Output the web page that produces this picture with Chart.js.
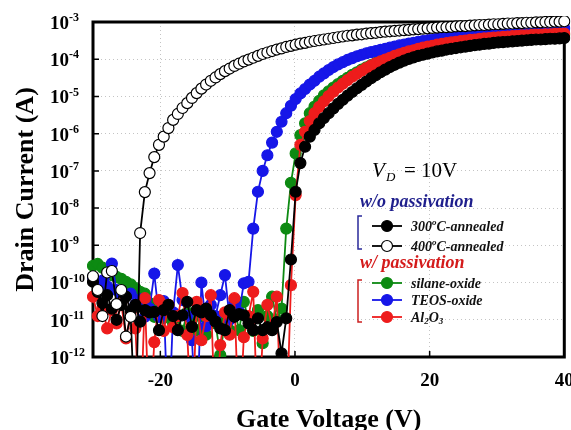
<!DOCTYPE html>
<html>
<head>
<meta charset="utf-8">
<script src="https://cdn.jsdelivr.net/npm/chart.js@4"></script>
<style>
  html, body { margin: 0; padding: 0; background: #fff; }
  #wrap { width: 571px; height: 430px; }
</style>
</head>
<body>
<div id="wrap"><canvas id="transfer_chart" width="571" height="430"></canvas></div>
<script>
// gate voltage sweep (V)
const volts = [
  -30, -29.3, -28.6, -27.9, -27.2, -26.5, -25.8, -25.1, -24.4, -23.7,
  -23.0, -22.3, -21.6, -20.9, -20.2, -19.5, -18.8, -18.1, -17.4, -16.7,
  -16.0, -15.3, -14.6, -13.9, -13.2, -12.5, -11.8, -11.1, -10.4, -9.7,
  -9.0, -8.3, -7.6, -6.9, -6.2, -5.5, -4.8, -4.1, -3.4, -2.7,
  -2.0, -1.3, -0.6, 0.1, 0.8, 1.5, 2.2, 2.9, 3.6, 4.3,
  5.0, 5.7, 6.4, 7.1, 7.8, 8.5, 9.2, 9.9, 10.6, 11.3,
  12.0, 12.7, 13.4, 14.1, 14.8, 15.5, 16.2, 16.9, 17.6, 18.3,
  19.0, 19.7, 20.4, 21.1, 21.8, 22.5, 23.2, 23.9, 24.6, 25.3,
  26.0, 26.7, 27.4, 28.1, 28.8, 29.5, 30.2, 30.9, 31.6, 32.3,
  33.0, 33.7, 34.4, 35.1, 35.8, 36.5, 37.2, 37.9, 38.6, 39.3,
  40.0
];

// drain current, stored as log10(I / A)  (-14 = below the 1e-12 floor)
const logI_300C = [
  -9.98, -10.25, -10.55, -10.34, -10.7, -11.0, -10.6, -10.38, -10.75, -10.6,
  -11.05, -10.74, -10.8, -10.79, -11.28, -10.74, -10.6, -10.9, -11.28, -10.88,
  -10.52, -11.19, -10.74, -10.8, -10.7, -10.88, -11.05, -11.23, -11.28, -10.74,
  -10.92, -10.85, -10.88, -11.1, -11.28, -10.96, -11.28, -11.2, -11.28, -11.06,
  -11.9, -10.96, -9.38, -7.56, -6.79, -6.35, -6.08, -5.9, -5.72, -5.58,
  -5.45, -5.32, -5.2, -5.09, -4.98, -4.88, -4.78, -4.69, -4.6, -4.51,
  -4.43, -4.35, -4.28, -4.21, -4.15, -4.09, -4.04, -3.99, -3.95, -3.91,
  -3.88, -3.85, -3.82, -3.79, -3.77, -3.74, -3.72, -3.70, -3.68, -3.66,
  -3.64, -3.62, -3.61, -3.59, -3.58, -3.56, -3.55, -3.54, -3.53, -3.52,
  -3.51, -3.50, -3.49, -3.48, -3.47, -3.47, -3.46, -3.45, -3.45, -3.44,
  -3.43
];
const logI_400C = [
  -9.83, -10.2, -10.9, -9.73, -9.69, -10.58, -10.2, -11.45, -10.92, -14,
  -8.67, -7.57, -7.06, -6.63, -6.3, -6.08, -5.85, -5.63, -5.47, -5.31,
  -5.18, -5.04, -4.91, -4.79, -4.68, -4.58, -4.49, -4.40, -4.32, -4.25,
  -4.18, -4.12, -4.06, -4.01, -3.96, -3.91, -3.86, -3.82, -3.78, -3.74,
  -3.71, -3.67, -3.64, -3.61, -3.58, -3.56, -3.53, -3.51, -3.49, -3.47,
  -3.45, -3.43, -3.41, -3.39, -3.37, -3.36, -3.34, -3.33, -3.31, -3.30,
  -3.29, -3.27, -3.26, -3.25, -3.24, -3.23, -3.22, -3.21, -3.20, -3.19,
  -3.18, -3.17, -3.16, -3.15, -3.14, -3.14, -3.13, -3.12, -3.11, -3.11,
  -3.10, -3.09, -3.08, -3.08, -3.07, -3.06, -3.06, -3.05, -3.04, -3.04,
  -3.03, -3.03, -3.02, -3.02, -3.01, -3.01, -3.00, -3.00, -2.99, -2.99,
  -2.98
];
const logI_silane = [
  -9.55, -9.5, -9.6, -9.7, -9.8, -9.85, -9.9, -9.98, -10.05, -10.15,
  -10.25, -10.3, -10.55, -10.92, -10.6, -10.95, -10.74, -11.1, -10.88, -11.3,
  -10.8, -11.0, -11.28, -10.9, -11.4, -10.85, -11.1, -11.95, -11.0, -11.28,
  -10.7, -11.28, -10.52, -11.0, -11.3, -10.74, -11.63, -10.9, -10.38, -11.0,
  -10.7, -8.55, -7.32, -6.53, -6.04, -5.72, -5.45, -5.27, -5.12, -4.97,
  -4.86, -4.76, -4.67, -4.58, -4.5, -4.42, -4.35, -4.28, -4.22, -4.16,
  -4.1, -4.05, -4.01, -3.97, -3.93, -3.89, -3.85, -3.81, -3.78, -3.75,
  -3.72, -3.69, -3.66, -3.64, -3.62, -3.60, -3.58, -3.56, -3.54, -3.53,
  -3.51, -3.50, -3.48, -3.47, -3.46, -3.45, -3.44, -3.43, -3.42, -3.41,
  -3.40, -3.39, -3.39, -3.38, -3.37, -3.37, -3.36, -3.36, -3.35, -3.35,
  -3.34
];
const logI_teos = [
  -9.85, -10.0, -9.95, -10.1, -9.49, -10.2, -10.4, -10.34, -10.3, -10.6,
  -10.45, -10.92, -10.7, -9.76, -10.92, -10.5, -14, -10.8, -9.53, -10.47,
  -10.9, -11.55, -14, -10.0, -11.17, -10.6, -10.9, -10.34, -9.8, -11.0,
  -10.55, -10.8, -10.02, -9.98, -8.55, -7.56, -7.0, -6.58, -6.24, -5.95,
  -5.68, -5.45, -5.25, -5.07, -4.92, -4.8, -4.68, -4.58, -4.47, -4.38,
  -4.29, -4.21, -4.14, -4.08, -4.02, -3.97, -3.92, -3.88, -3.84, -3.81,
  -3.78, -3.75, -3.72, -3.69, -3.66, -3.63, -3.61, -3.58, -3.56, -3.53,
  -3.51, -3.49, -3.47, -3.45, -3.43, -3.41, -3.40, -3.38, -3.37, -3.35,
  -3.34, -3.33, -3.31, -3.30, -3.29, -3.28, -3.27, -3.26, -3.25, -3.24,
  -3.23, -3.23, -3.22, -3.21, -3.21, -3.20, -3.19, -3.19, -3.18, -3.18,
  -3.17
];
const logI_al2o3 = [
  -10.38, -10.9, -10.7, -11.23, -10.74, -11.1, -10.55, -11.5, -10.8, -11.23,
  -14, -10.42, -14, -11.6, -10.47, -11.3, -10.6, -11.2, -10.9, -10.28,
  -11.41, -14, -10.52, -11.55, -10.9, -10.34, -14, -11.68, -10.8, -11.4,
  -10.42, -14, -11.47, -10.9, -10.25, -14, -11.5, -10.6, -11.2, -10.38,
  -14, -14, -10.07, -7.65, -6.3, -5.95, -5.66, -5.45, -5.28, -5.13,
  -4.99, -4.87, -4.76, -4.66, -4.56, -4.47, -4.39, -4.31, -4.24, -4.17,
  -4.11, -4.06, -4.01, -3.96, -3.91, -3.87, -3.83, -3.79, -3.76, -3.72,
  -3.69, -3.66, -3.64, -3.61, -3.59, -3.57, -3.55, -3.53, -3.51, -3.50,
  -3.48, -3.47, -3.45, -3.44, -3.43, -3.42, -3.41, -3.40, -3.39, -3.38,
  -3.37, -3.36, -3.36, -3.35, -3.34, -3.34, -3.33, -3.33, -3.32, -3.32,
  -3.31
];

const yTickExps = [-3, -4, -5, -6, -7, -8, -9, -10, -11, -12];
const xTickVals = [-20, 0, 20, 40];
const xTickLabels = ["-20", "0", "20", "40"];

const SERIF = '"Liberation Serif", "Times New Roman", serif';
const GREEN = "#0d8a12";
const BLUE = "#1616e8";
const RED = "#ee1c1c";

function pts(arr) {
  return volts.map((v, i) => ({ x: v, y: Math.pow(10, arr[i]) }));
}

function curve(label, arr, color, fill, order) {
  return {
    label: label,
    data: pts(arr),
    borderColor: color,
    backgroundColor: fill,
    borderWidth: 1.8,
    pointRadius: 5.5,
    pointBorderWidth: 1.2,
    pointBorderColor: color,
    pointBackgroundColor: fill,
    tension: 0,
    order: order,
    clip: { left: 6, top: 6, right: 6, bottom: 0 }
  };
}

// text with raised / lowered small pieces
function runs(ctx, x, y, parts, style, size, small) {
  parts.forEach(p => {
    const s = p.s ? small : size;
    ctx.font = style + " " + s + "px " + SERIF;
    ctx.fillText(p.t, x, y + (p.dy || 0));
    x += ctx.measureText(p.t).width + (p.gap || 0);
  });
}

function legendMark(ctx, x, y, color, open) {
  ctx.strokeStyle = color;
  ctx.lineWidth = 1.8;
  ctx.beginPath();
  ctx.moveTo(x - 15, y);
  ctx.lineTo(x + 15, y);
  ctx.stroke();
  ctx.beginPath();
  ctx.arc(x, y, 5.5, 0, Math.PI * 2);
  ctx.fillStyle = open ? "#fff" : color;
  ctx.fill();
  ctx.lineWidth = 1.2;
  ctx.stroke();
}

function bracket(ctx, x, y0, y1, color) {
  ctx.strokeStyle = color;
  ctx.lineWidth = 1.5;
  ctx.beginPath();
  ctx.moveTo(x + 4, y0);
  ctx.lineTo(x, y0);
  ctx.lineTo(x, y1);
  ctx.lineTo(x + 4, y1);
  ctx.stroke();
}

const deco = {
  id: "deco",
  beforeDatasetsDraw(chart) {
    const { ctx, chartArea: a, scales } = chart;
    ctx.save();
    ctx.strokeStyle = "#000";
    ctx.lineWidth = 1.5;
    ctx.beginPath();
    yTickExps.forEach(e => {
      const py = scales.y.getPixelForValue(Math.pow(10, e));
      ctx.moveTo(a.left, py);
      ctx.lineTo(a.left + 6, py);
    });
    xTickVals.forEach(v => {
      const px = scales.x.getPixelForValue(v);
      ctx.moveTo(px, a.bottom);
      ctx.lineTo(px, a.bottom - 6);
    });
    ctx.stroke();
    ctx.lineWidth = 3;
    ctx.strokeRect(a.left, a.top, a.right - a.left, a.bottom - a.top);
    ctx.restore();
  },
  afterDraw(chart) {
    const { ctx, chartArea: a, scales } = chart;
    ctx.save();
    ctx.fillStyle = "#000";
    ctx.textBaseline = "middle";
    ctx.textAlign = "left";

    // y tick labels 10^n
    yTickExps.forEach(e => {
      const py = scales.y.getPixelForValue(Math.pow(10, e));
      runs(ctx, 50, py + 2, [{ t: "10" }, { t: String(e), s: 1, dy: -6 }], "bold", 19, 12);
    });

    // x tick labels
    ctx.textAlign = "center";
    ctx.font = "bold 19px " + SERIF;
    xTickVals.forEach((v, i) => {
      ctx.fillText(xTickLabels[i], scales.x.getPixelForValue(v), a.bottom + 24);
    });

    // axis titles
    ctx.textBaseline = "alphabetic";
    ctx.font = "bold 26px " + SERIF;
    ctx.fillText("Gate Voltage (V)", (a.left + a.right) / 2, 427);
    ctx.save();
    ctx.translate(33, (a.top + a.bottom) / 2);
    ctx.rotate(-Math.PI / 2);
    ctx.fillText("Drain Current (A)", 0, 0);
    ctx.restore();

    // annotation + legend
    ctx.textAlign = "left";
    ctx.font = "italic 21px " + SERIF;
    ctx.fillText("V", 372, 177);
    ctx.font = "italic 13px " + SERIF;
    ctx.fillText("D", 386, 181);
    ctx.font = "21px " + SERIF;
    ctx.fillText("= 10V", 404, 177);

    ctx.fillStyle = "#1e1e8c";
    ctx.font = "italic bold 18px " + SERIF;
    ctx.fillText("w/o passivation", 360, 207);
    ctx.fillStyle = "#d41a1a";
    ctx.fillText("w/ passivation", 360, 268);

    bracket(ctx, 358, 216, 249, "#2a2a9a");
    bracket(ctx, 358, 280, 322, "#cc2020");

    ctx.textBaseline = "middle";
    const rows = [
      { y: 226, c: "#000", open: false, parts: [{ t: "300" }, { t: "o", s: 1, dy: -4 }, { t: "C-annealed" }] },
      { y: 246, c: "#000", open: true, parts: [{ t: "400" }, { t: "o", s: 1, dy: -4 }, { t: "C-annealed" }] },
      { y: 283, c: GREEN, open: false, parts: [{ t: "silane-oxide" }] },
      { y: 300, c: BLUE, open: false, parts: [{ t: "TEOS-oxide" }] },
      { y: 317, c: RED, open: false, parts: [{ t: "Al" }, { t: "2", s: 1, dy: 4 }, { t: "O" }, { t: "3", s: 1, dy: 4 }] }
    ];
    rows.forEach(r => {
      legendMark(ctx, 387, r.y, r.c, r.open);
      ctx.fillStyle = "#111";
      runs(ctx, 411, r.y + 1, r.parts, "italic bold", 14, 9);
    });
    ctx.restore();
  }
};

const transfer_chart = new Chart(document.getElementById("transfer_chart"), {
  type: "line",
  data: {
    datasets: [
      curve("300°C-annealed", logI_300C, "#000", "#000", 1),
      curve("400°C-annealed", logI_400C, "#000", "#fff", 0),
      curve("silane-oxide", logI_silane, GREEN, GREEN, 4),
      curve("TEOS-oxide", logI_teos, BLUE, BLUE, 3),
      curve("Al2O3", logI_al2o3, RED, RED, 2)
    ]
  },
  options: {
    responsive: false,
    animation: false,
    devicePixelRatio: 1,
    layout: { padding: { left: 93, right: 6, top: 22, bottom: 73 } },
    plugins: { legend: { display: false }, tooltip: { enabled: false } },
    scales: {
      x: {
        type: "linear",
        min: -30,
        max: 40,
        afterBuildTicks: s => { s.ticks = xTickVals.map(v => ({ value: v })); },
        ticks: { display: false },
        grid: { drawTicks: false, color: "#c4c4c4", lineWidth: 1 },
        border: { display: false, dash: [1, 3] }
      },
      y: {
        type: "logarithmic",
        min: 1e-12,
        max: 1e-3,
        afterBuildTicks: s => { s.ticks = yTickExps.map(e => ({ value: Math.pow(10, e) })); },
        ticks: { display: false },
        grid: { drawTicks: false, color: "#c4c4c4", lineWidth: 1 },
        border: { display: false, dash: [1, 3] }
      }
    }
  },
  plugins: [deco]
});
</script>
</body>
</html>
